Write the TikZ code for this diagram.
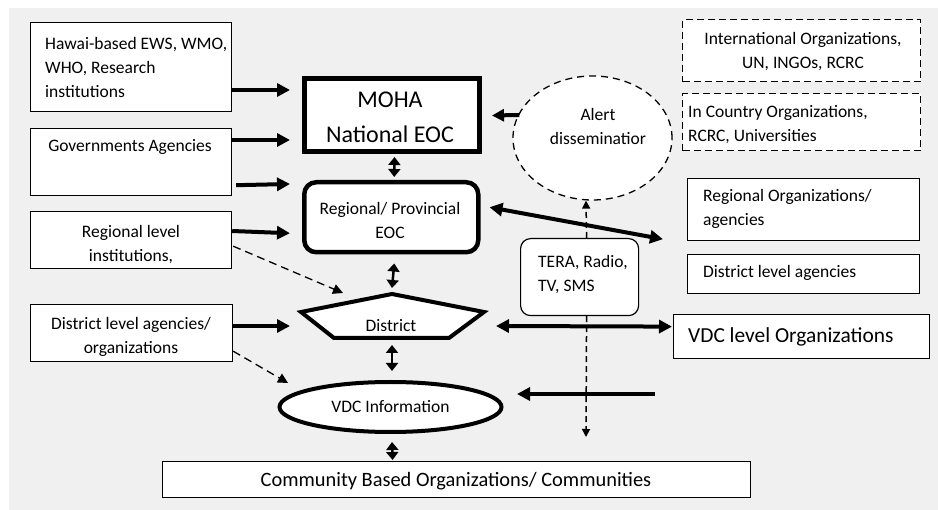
\documentclass[tikz,border=0pt]{standalone}
\usepackage{fontspec}
\setmainfont{Carlito}
\usetikzlibrary{arrows.meta,shapes.geometric,calc}
\definecolor{bg}{HTML}{F0F0F0}
\begin{document}
\begin{tikzpicture}[x=1pt,y=-1pt,
  font=\fontsize{17.5}{24}\selectfont,
  box/.style={draw, fill=white, line width=1.2pt, inner sep=0pt, anchor=north west},
  dbox/.style={box, dash pattern=on 7pt off 4pt},
  txt/.style={inner sep=0pt},
  bigarrow/.style={line width=4pt, -{Triangle[length=13pt,width=13pt]}},
  bigdbl/.style={line width=4pt, {Triangle[length=13pt,width=13pt]}-{Triangle[length=13pt,width=13pt]}},
  smalldbl/.style={line width=2.5pt, {Triangle[length=8pt,width=12pt]}-{Triangle[length=8pt,width=12pt]}},
  dasharrow/.style={line width=1.3pt, dash pattern=on 8pt off 5pt, -{Triangle[length=10pt,width=10pt]}},
  vdash/.style={line width=1.5pt, dash pattern=on 6pt off 4pt, -{Triangle[length=8pt,width=8pt]}}
]
\useasboundingbox (0,0) rectangle (938,510);
\fill[bg] (9,8) rectangle (938,510);

% left boxes
\node[box, minimum width=201pt, minimum height=89pt] (A) at (30,22) {};
\node[txt, anchor=west, align=left] (At) at (45,67) {Hawai-based EWS, WMO,\\WHO, Research\\institutions};
\node[box, minimum width=201pt, minimum height=67pt] (B) at (30,128) {};
\node[txt] (Bt) at (130,147) {Governments Agencies};
\node[box, minimum width=201pt, minimum height=57pt] (C) at (30,211) {};
\node[txt, align=center] (Ct) at (131,244.5) {Regional level\\institutions,};
\node[box, minimum width=202pt, minimum height=57pt] (D) at (30,304) {};
\node[txt, align=center] (Dt) at (131,337) {District level agencies/\\organizations};

% central column
\node[box, line width=5pt, minimum width=175pt, minimum height=73pt] (moha) at (302,76) {};
\node[txt, align=center, font=\fontsize{24}{35}\selectfont] (mohat) at (390,117.5) {MOHA\\National EOC};
\node[box, line width=4.5pt, rounded corners=12pt, minimum width=174pt, minimum height=70pt] (reg) at (302,180) {};
\node[txt, align=center] (regt) at (390,220.5) {Regional/ Provincial\\EOC};
\draw[line width=4pt, fill=white, line join=miter]
  (392,294) coordinate (distTop) -- (484,312) coordinate (distR) -- (449,338) coordinate (distBR)
  -- (334,338) coordinate (distBL) -- (301,312) coordinate (distL) -- cycle;
\node[txt] (distt) at (391,326) {District};
\node[draw, fill=white, ellipse, line width=4pt, inner sep=0pt, minimum width=222pt, minimum height=50pt] (vdc) at (390.5,407) {VDC Information};
\node[box, minimum width=588pt, minimum height=36pt] (comm) at (162,461) {};
\node[txt, font=\fontsize{20.4}{24}\selectfont] (commt) at (456,481) {Community Based Organizations/ Communities};

% alert and media
\node[draw, fill=white, ellipse, line width=1.3pt, dash pattern=on 7pt off 5pt, inner sep=0pt, minimum width=159pt, minimum height=124pt] (alert) at (592.5,138) {};
\node[txt, align=center] (alertt) at (598,126.5) {Alert\\disseminatior};
\node[box, rounded corners=10pt, minimum width=118pt, minimum height=77pt] (tera) at (520,238) {};
\node[txt, anchor=west, align=left] (terat) at (538,275) {TERA, Radio,\\TV, SMS};

% right boxes
\node[dbox, minimum width=238pt, minimum height=62pt] (intl) at (682,19) {};
\node[txt, align=center] (intlt) at (803,51.5) {International Organizations,\\UN, INGOs, RCRC};
\node[dbox, minimum width=238pt, minimum height=57pt] (inc) at (682,93) {};
\node[txt, anchor=west, align=left] (inct) at (688,125) {In Country Organizations,\\RCRC, Universities};
\node[box, minimum width=232pt, minimum height=62pt] (rorg) at (687,178) {};
\node[txt, anchor=west, align=left] (rorgt) at (703,209) {Regional Organizations/\\agencies};
\node[box, minimum width=232pt, minimum height=39pt] (dag) at (687,254) {};
\node[txt, anchor=west] (dagt) at (703,273) {District level agencies};
\node[box, minimum width=256pt, minimum height=44pt] (vlo) at (673,314) {};
\node[txt, anchor=west, font=\fontsize{21.4}{26}\selectfont] (vlot) at (688,337) {VDC level Organizations};

\coordinate (teraEnd) at (586,437);
\coordinate (vdcIn) at (655,394);

% arrows from left
\draw[bigarrow] ($(A.north east)+(0,68)$) -- ($(moha.north west)+(-12,14)$);
\draw[bigarrow] ($(B.north east)+(0,12)$) -- ($(moha.north west)+(-12,64)$);
\draw[bigarrow] ($(B.south east)+(4,-11)$) -- ($(reg.north west)+(-12,4)$);
\draw[bigarrow] ($(C.north east)+(0,20)$) -- ($(reg.west)+(-12,16)$);
\draw[bigarrow] ($(D.north east)+(0,22)$) -- ($(distL)+(-11,14)$);
\draw[dasharrow] ($(C.south east)+(1,-23)$) -- ($(distL)+(42,-19)$);
\draw[dasharrow] ($(D.south east)+(0,-11)$) -- ($(vdc.west)+(10.5,-24)$);

% central double arrows
\draw[smalldbl] ($(moha.south)+(2.5,3)$) -- ($(reg.north)+(3,-3)$);
\draw[smalldbl] ($(reg.south)+(3,9)$) -- ($(distTop)+(0,-6)$);
\draw[smalldbl] ($(distBL)!0.5!(distBR)+(0.5,7)$) -- ($(vdc.north)+(1.5,-9)$);
\draw[smalldbl] ($(vdc.south)+(1.5,8)$) -- ($(comm.north)+(-64,-1)$);

% right side arrows
\draw[line width=4pt, -{Triangle[length=12pt,width=12pt]}] ($(alert.west)+(7,-23)$) -- ($(moha.east)+(10,0.5)$);
\draw[bigdbl] ($(reg.east)+(9,-10)$) -- ($(rorg.south west)+(-24,-2)$);
\draw[vdash] ($(tera.north)+(7,0)$) -- ($(alert.south)+(-6.5,0)$);
\draw[vdash] ($(tera.south)+(7,0)$) -- (teraEnd);
\draw[bigdbl] ($(distR)+(12,14)$) -- ($(vlo.west)+(-1,-10)$);
\draw[bigarrow] (vdcIn) -- ($(vdc.east)+(13.5,-13)$);
\end{tikzpicture}
\end{document}
